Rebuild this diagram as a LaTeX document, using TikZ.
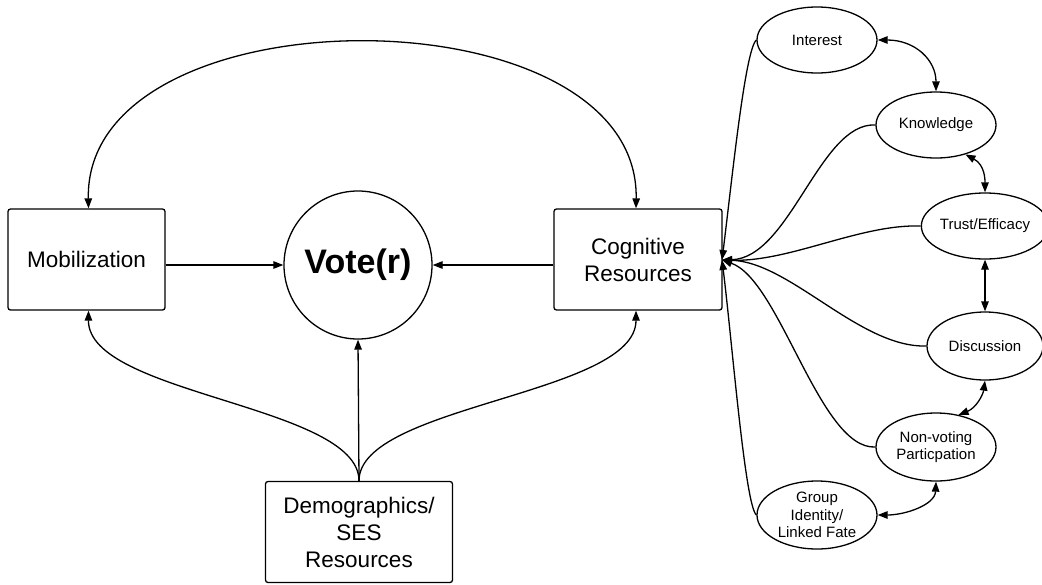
\documentclass[tikz,border=0pt]{standalone}
\usepackage{fontspec}
\setmainfont{Liberation Sans}
\usetikzlibrary{arrows.meta,shapes.geometric}
\begin{document}
\begin{tikzpicture}[x=1pt,y=-1pt,
  every path/.style={line width=1.3pt},
  tip/.tip={Triangle[length=10pt,width=7.5pt]},
  box/.style={draw,rectangle,rounded corners=2.5pt,inner sep=0pt,align=center,font=\fontsize{22.5}{27}\selectfont},
  bub/.style={draw,ellipse,inner sep=0pt,minimum width=120pt,minimum height=66pt,align=center,font=\fontsize{15}{17.5}\selectfont},
  arr/.style={-tip},
  darr/.style={tip-tip}]
\useasboundingbox (0,0) rectangle (1042,584);
\node[box,minimum width=157pt,minimum height=101pt] (mob) at (86.5,259.5) {Mobilization};
\node[draw,circle,inner sep=0pt,minimum size=148pt,font=\bfseries\fontsize{34}{38}\selectfont] (vote) at (358,265) {Vote(r)};
\node[box,minimum width=168pt,minimum height=101pt] (cog) at (638,259.5) {Cognitive\\Resources};
\node[box,minimum width=187pt,minimum height=101pt] (dem) at (359,532) {Demographics/\\SES\\Resources};
\node[bub] (int) at (817,40) {Interest};
\node[bub] (knw) at (936,125) {Knowledge};
\node[bub,minimum width=116pt] (tru) at (985,226) {Trust/Efficacy};
\node[bub,minimum width=116pt,minimum height=68pt] (dis) at (985,346) {Discussion};
\node[bub,minimum height=68pt] (nvp) at (936,447) {Non-voting\\Particpation};
\node[bub,minimum height=68pt] (grp) at (817,515) {Group\\Identity/\\Linked Fate};
\coordinate (hub) at (722,260);
% top arc
\draw[darr] ([xshift=2pt]mob.north) .. controls (84,-12) and (640,-12) .. ([xshift=-2pt]cog.north);
% horizontal
\draw[arr] (mob.east |- vote.west) -- (vote.west);
\draw[arr] (cog.west |- vote.east) -- (vote.east);
% from demographics
\draw[arr] (dem.north) -- (vote.south);
\draw[arr] (dem.north) .. controls (359,405) and (88,395) .. ([xshift=2pt]mob.south);
\draw[arr] (dem.north) .. controls (359,405) and (636,395) .. ([xshift=-2pt]cog.south);
% fan
\draw[arr] (int.west) .. controls (745,50) and (732,180) .. (hub);
\draw[arr] (knw.west) .. controls (820,122) and (790,258) .. (hub);
\draw[arr] (tru.west) .. controls (860,224) and (790,262) .. (hub);
\draw[arr] (dis.west) .. controls (860,348) and (790,262) .. (hub);
\draw[arr] (nvp.west) .. controls (820,450) and (780,280) .. (hub);
\draw[arr] (grp.west) .. controls (745,505) and (732,340) .. (hub);
% double arrows between bubbles
\draw[darr] (int.east) .. controls (915,40) and (936,60) .. (knw.north);
\draw[darr] (knw.-45) .. controls (985,165) and (985,180) .. (tru.north);
\draw[darr] (tru.south) -- (dis.north);
\draw[darr] (dis.south) .. controls (983,395) and (976,408) .. (nvp.55);
\draw[darr] (nvp.south) .. controls (935,505) and (905,515) .. (grp.east);
\end{tikzpicture}
\end{document}
